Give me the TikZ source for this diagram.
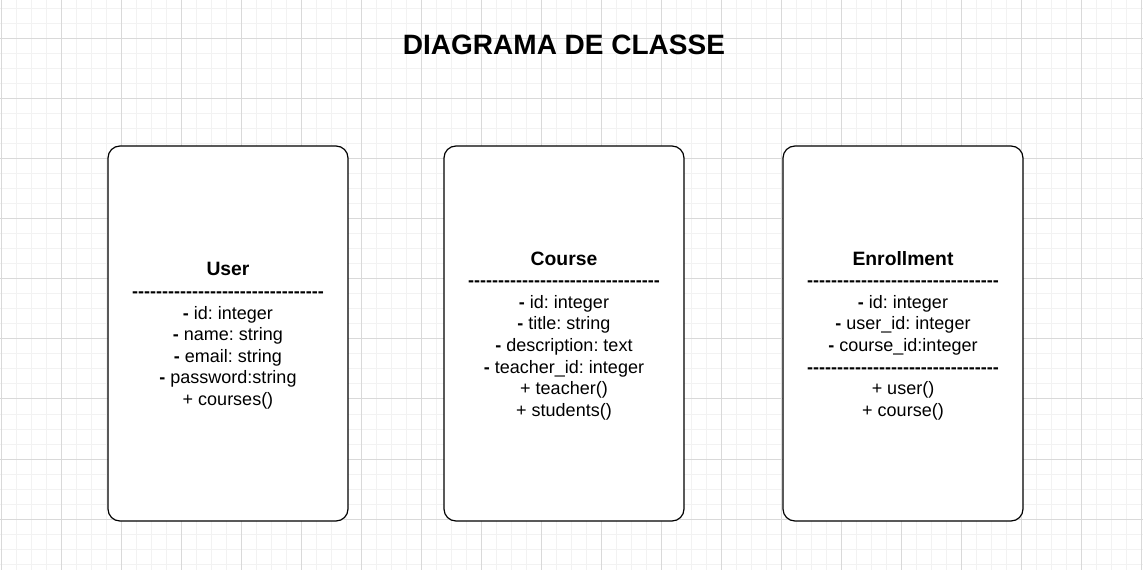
\documentclass[tikz,border=0pt]{standalone}
\usepackage{fontspec}
\setmainfont{Liberation Sans}[Ligatures=TeXOff]
\frenchspacing
\tikzset{classbox/.style={rectangle, rounded corners=9pt, minimum width=180pt, minimum height=281.25pt, align=center, draw=black, line width=0.9pt, fill=white, font=\fontsize{13.5}{16.2}\selectfont},
  heading/.style={font=\fontsize{21}{25}\selectfont\bfseries},
  gridminor/.style={draw=black!5, line width=0.75pt},
  gridmajor/.style={draw=black!15, line width=0.75pt}}
\newcommand{\dashrow}{\textbf{--------------------------------}}
\newcommand{\priv}{\textbf{-}}
\newcommand{\classname}[1]{\rule{0pt}{13.5pt}{\bfseries\fontsize{14.5}{16.2}\selectfont #1}}

\begin{document}
\begin{tikzpicture}[x=0.75pt, y=-0.75pt]
\useasboundingbox (0,0) rectangle (1143,570);
\fill[white] (0,0) rectangle (1143,570);
% grid
\foreach \gx in {1,16,...,1141} \draw[gridminor] (\gx,0) -- (\gx,570);
\foreach \gy in {9,24,...,564} \draw[gridminor] (0,\gy) -- (1143,\gy);
\foreach \gx in {1,61,...,1141} \draw[gridmajor] (\gx,0) -- (\gx,570);
\foreach \gy in {39,99,...,519} \draw[gridmajor] (0,\gy) -- (1143,\gy);

\node (title) [heading] at (564,45) {DIAGRAMA DE CLASSE};

\node (user) [classbox] at (228,333.5) {\classname{User}\\ \dashrow\\ \priv{} id: integer\\ \priv{} name: string\\ \priv{} email: string\\ \priv{} password:string\\ + courses()};
\node (course) [classbox] at (564,333.5) {\classname{Course}\\ \dashrow\\ \priv{} id: integer\\ \priv{} title: string\\ \priv{} description: text\\ \priv{} teacher\_id: integer\\ + teacher()\\ + students()};
\node (enrollment) [classbox] at (903,333.5) {\classname{Enrollment}\\ \dashrow\\ \priv{} id: integer\\ \priv{} user\_id: integer\\ \priv{} course\_id:integer\\ \dashrow\\ + user()\\ + course()};
\end{tikzpicture}
\end{document}
